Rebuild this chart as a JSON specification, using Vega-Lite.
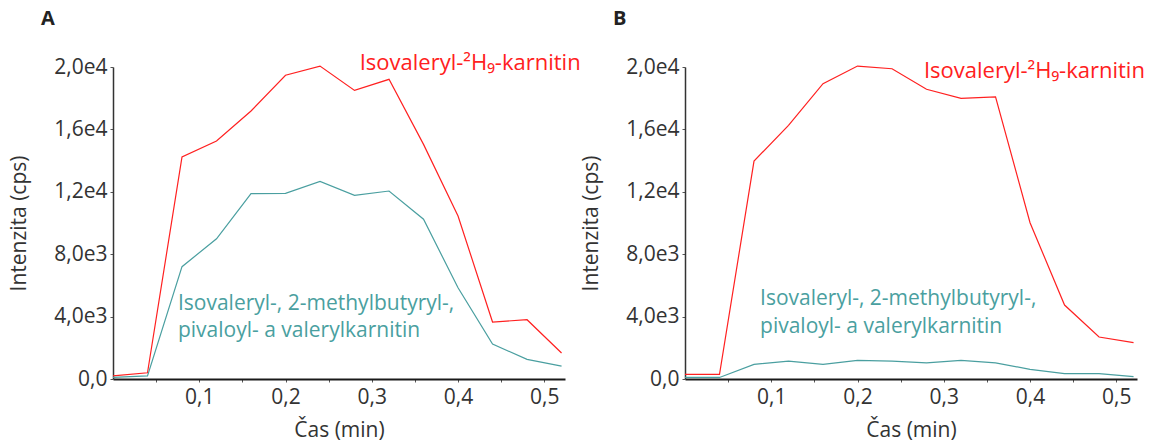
{
  "$schema": "https://vega.github.io/schema/vega-lite/v6.json",
  "background": "white",
  "padding": {"left": 8, "top": 8, "right": 5, "bottom": 3},
  "config": {
    "view": {"stroke": null},
    "font": "Open Sans",
    "axis": {
      "grid": false,
      "labelFontSize": 21,
      "titleFontSize": 21,
      "titleFontWeight": "normal",
      "labelColor": "#333333",
      "titleColor": "#333333",
      "tickColor": "#555555",
      "tickSize": 3,
      "tickWidth": 1
    }
  },
  "datasets": {
    "lineA": [
      {"t": 0.00, "i": 200, "s": "d9"}, {"t": 0.04, "i": 400, "s": "d9"}, {"t": 0.08, "i": 14230, "s": "d9"},
      {"t": 0.12, "i": 15260, "s": "d9"}, {"t": 0.16, "i": 17180, "s": "d9"}, {"t": 0.20, "i": 19470, "s": "d9"},
      {"t": 0.24, "i": 20060, "s": "d9"}, {"t": 0.28, "i": 18500, "s": "d9"}, {"t": 0.32, "i": 19210, "s": "d9"},
      {"t": 0.36, "i": 15040, "s": "d9"}, {"t": 0.40, "i": 10450, "s": "d9"}, {"t": 0.44, "i": 3650, "s": "d9"},
      {"t": 0.48, "i": 3800, "s": "d9"}, {"t": 0.52, "i": 1670, "s": "d9"},
      {"t": 0.00, "i": 100, "s": "c5"}, {"t": 0.04, "i": 200, "s": "c5"}, {"t": 0.08, "i": 7200, "s": "c5"},
      {"t": 0.12, "i": 8990, "s": "c5"}, {"t": 0.16, "i": 11880, "s": "c5"}, {"t": 0.20, "i": 11900, "s": "c5"},
      {"t": 0.24, "i": 12670, "s": "c5"}, {"t": 0.28, "i": 11770, "s": "c5"}, {"t": 0.32, "i": 12050, "s": "c5"},
      {"t": 0.36, "i": 10240, "s": "c5"}, {"t": 0.40, "i": 5850, "s": "c5"}, {"t": 0.44, "i": 2240, "s": "c5"},
      {"t": 0.48, "i": 1260, "s": "c5"}, {"t": 0.52, "i": 830, "s": "c5"}
    ],
    "lineB": [
      {"t": 0.00, "i": 300, "s": "d9"}, {"t": 0.04, "i": 300, "s": "d9"}, {"t": 0.08, "i": 13970, "s": "d9"},
      {"t": 0.12, "i": 16260, "s": "d9"}, {"t": 0.16, "i": 18930, "s": "d9"}, {"t": 0.20, "i": 20060, "s": "d9"},
      {"t": 0.24, "i": 19890, "s": "d9"}, {"t": 0.28, "i": 18570, "s": "d9"}, {"t": 0.32, "i": 17990, "s": "d9"},
      {"t": 0.36, "i": 18080, "s": "d9"}, {"t": 0.40, "i": 10020, "s": "d9"}, {"t": 0.44, "i": 4740, "s": "d9"},
      {"t": 0.48, "i": 2690, "s": "d9"}, {"t": 0.52, "i": 2330, "s": "d9"},
      {"t": 0.00, "i": 100, "s": "c5"}, {"t": 0.04, "i": 100, "s": "c5"}, {"t": 0.08, "i": 940, "s": "c5"},
      {"t": 0.12, "i": 1150, "s": "c5"}, {"t": 0.16, "i": 940, "s": "c5"}, {"t": 0.20, "i": 1200, "s": "c5"},
      {"t": 0.24, "i": 1150, "s": "c5"}, {"t": 0.28, "i": 1030, "s": "c5"}, {"t": 0.32, "i": 1200, "s": "c5"},
      {"t": 0.36, "i": 1030, "s": "c5"}, {"t": 0.40, "i": 620, "s": "c5"}, {"t": 0.44, "i": 340, "s": "c5"},
      {"t": 0.48, "i": 340, "s": "c5"}, {"t": 0.52, "i": 150, "s": "c5"}
    ],
    "labelsA": [
      {"t": 0.286, "i": 20260, "s": "d9", "label": "Isovaleryl-²H₉-karnitin", "fs": "big"},
      {"t": 0.0753, "i": 4810, "s": "c5", "label": "Isovaleryl-, 2-methylbutyryl-,", "fs": "std"},
      {"t": 0.0753, "i": 3080, "s": "c5", "label": "pivaloyl- a valerylkarnitin", "fs": "std"}
    ],
    "labelsB": [
      {"t": 0.277, "i": 19740, "s": "d9", "label": "Isovaleryl-²H₉-karnitin", "fs": "big"},
      {"t": 0.087, "i": 5130, "s": "c5", "label": "Isovaleryl-, 2-methylbutyryl-,", "fs": "std"},
      {"t": 0.087, "i": 3330, "s": "c5", "label": "pivaloyl- a valerylkarnitin", "fs": "std"}
    ]
  },
  "bounds": "flush",
  "spacing": 120,
  "hconcat": [
    {
      "title": {"text": "A", "anchor": "start", "frame": "group", "dx": -72, "offset": 23, "fontSize": 20, "fontWeight": "bold", "color": "#222222"},
      "width": 452,
      "height": 312,
      "layer": [
        {
          "data": {"name": "lineA"},
          "mark": {"type": "line", "strokeWidth": 1.2},
          "encoding": {
            "x": {"field": "t", "type": "quantitative", "scale": {"domain": [0, 0.524], "nice": false, "zero": false},
              "axis": {"title": "Čas (min)", "values": [0.05, 0.1, 0.15, 0.2, 0.25, 0.3, 0.35, 0.4, 0.45, 0.5],
                "labelExpr": "abs(datum.value*10 - round(datum.value*10)) < 0.01 ? replace(format(datum.value, '.1f'), '.', ',') : ''",
                "domainColor": "#1a1a1a", "domainWidth": 2, "labelPadding": 4, "titlePadding": 12}},
            "y": {"field": "i", "type": "quantitative", "scale": {"domain": [0, 20000], "nice": false},
              "axis": {"title": "Intenzita (cps)", "values": [0,1000,2000,3000,4000,5000,6000,7000,8000,9000,10000,11000,12000,13000,14000,15000,16000,17000,18000,19000,20000],
                "labelExpr": "datum.value % 4000 == 0 ? (datum.value == 0 ? '0,0' : replace(replace(format(datum.value, '.1e'), '.', ','), '+', '')) : ''",
                "domainColor": "#333333", "domainWidth": 1.5, "labelPadding": 3, "titlePadding": 24}},
            "color": {"field": "s", "type": "nominal", "scale": {"domain": ["d9", "c5"], "range": ["#ff2020", "#4a9fa0"]}, "legend": null}
          }
        },
        {
          "data": {"name": "labelsA"},
          "mark": {"type": "text", "align": "left", "baseline": "middle"},
          "encoding": {
            "x": {"field": "t", "type": "quantitative"},
            "y": {"field": "i", "type": "quantitative"},
            "text": {"field": "label"},
            "size": {"field": "fs", "type": "nominal", "scale": {"domain": ["std", "big"], "range": [21, 22]}, "legend": null},
            "color": {"field": "s", "type": "nominal", "legend": null}
          }
        }
      ]
    },
    {
      "title": {"text": "B", "anchor": "start", "frame": "group", "dx": -72, "offset": 27, "fontSize": 20, "fontWeight": "bold", "color": "#222222"},
      "width": 452,
      "height": 312,
      "layer": [
        {
          "data": {"name": "lineB"},
          "mark": {"type": "line", "strokeWidth": 1.2},
          "encoding": {
            "x": {"field": "t", "type": "quantitative", "scale": {"domain": [0, 0.524], "nice": false, "zero": false},
              "axis": {"title": "Čas (min)", "values": [0.05, 0.1, 0.15, 0.2, 0.25, 0.3, 0.35, 0.4, 0.45, 0.5],
                "labelExpr": "abs(datum.value*10 - round(datum.value*10)) < 0.01 ? replace(format(datum.value, '.1f'), '.', ',') : ''",
                "domainColor": "#1a1a1a", "domainWidth": 2, "labelPadding": 4, "titlePadding": 12}},
            "y": {"field": "i", "type": "quantitative", "scale": {"domain": [0, 20000], "nice": false},
              "axis": {"title": "Intenzita (cps)", "values": [0,1000,2000,3000,4000,5000,6000,7000,8000,9000,10000,11000,12000,13000,14000,15000,16000,17000,18000,19000,20000],
                "labelExpr": "datum.value % 4000 == 0 ? (datum.value == 0 ? '0,0' : replace(replace(format(datum.value, '.1e'), '.', ','), '+', '')) : ''",
                "domainColor": "#333333", "domainWidth": 1.5, "labelPadding": 3, "titlePadding": 24}},
            "color": {"field": "s", "type": "nominal", "scale": {"domain": ["d9", "c5"], "range": ["#ff2020", "#4a9fa0"]}, "legend": null}
          }
        },
        {
          "data": {"name": "labelsB"},
          "mark": {"type": "text", "align": "left", "baseline": "middle"},
          "encoding": {
            "x": {"field": "t", "type": "quantitative"},
            "y": {"field": "i", "type": "quantitative"},
            "text": {"field": "label"},
            "size": {"field": "fs", "type": "nominal", "scale": {"domain": ["std", "big"], "range": [21, 22]}, "legend": null},
            "color": {"field": "s", "type": "nominal", "legend": null}
          }
        }
      ]
    }
  ]
}
